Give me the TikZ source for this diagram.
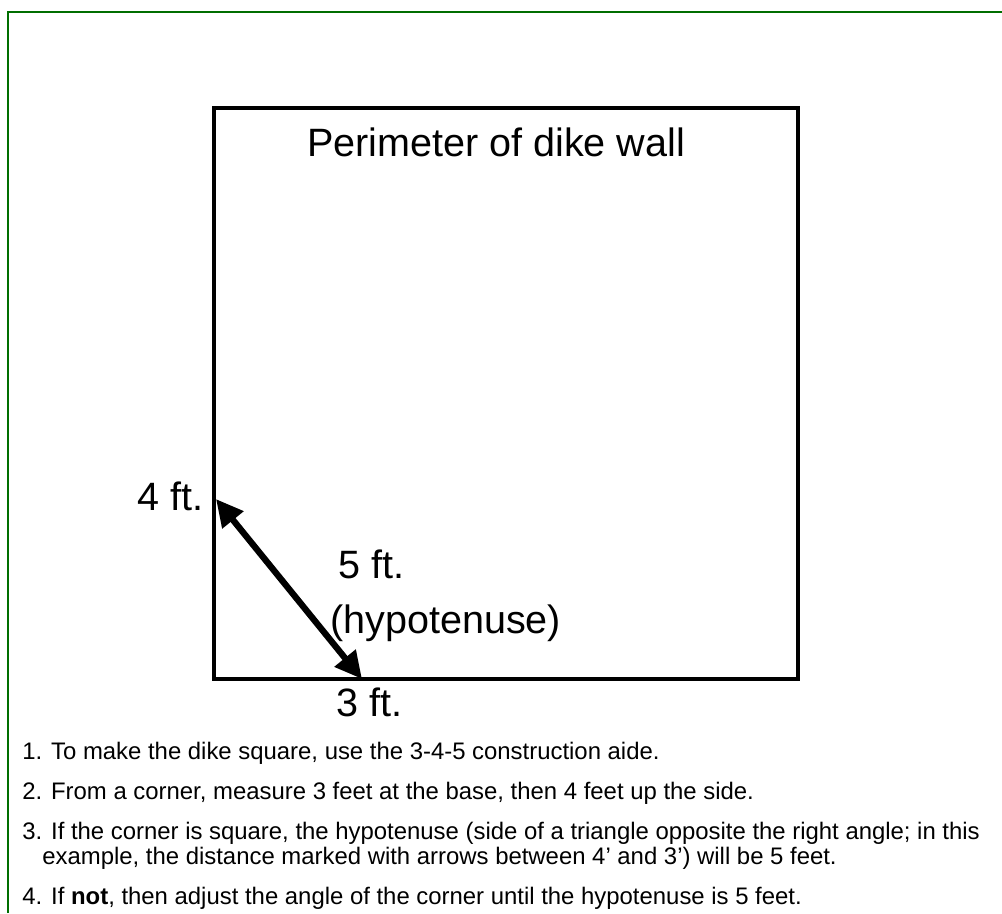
\documentclass[tikz,border=0pt]{standalone}
\usepackage{fontspec}
\setmainfont{Liberation Sans}
\usetikzlibrary{arrows.meta}
\definecolor{framegreen}{RGB}{0,110,0}
\begin{document}
\begin{tikzpicture}[x=0.2mm, y=-0.2mm,
  label/.style={font=\fontsize{22.5}{26}\selectfont, inner sep=0pt},
  note/.style={font=\fontsize{13.6}{16}\selectfont, anchor=base west, inner sep=0pt},
  wall/.style={line width=2.8pt},
  hyp/.style={line width=3.6pt, {Triangle[length=5.4mm, width=5.2mm]}-{Triangle[length=5.4mm, width=5.2mm]}}]
\useasboundingbox (0,0) rectangle (1002,913);
\draw[framegreen, line width=1.1pt](8,913)--(8,12)--(1002,12);

\coordinate (sw) at (214,679);
\coordinate (ne) at (798,108);
\coordinate (four) at (216,499);
\coordinate (three) at (362,679);
\draw[wall](sw) rectangle (ne);
\draw[hyp](four)--(three);

\node[label, anchor=base] (title) at (496,156){Perimeter of dike wall};
\node[label, anchor=base east] (fourft) at (204,510){4 ft.};
\node[label, anchor=base west] (fiveft) at (338,578){5 ft.};
\node[label, anchor=base west] (hypo) at (330,633){(hypotenuse)};
\node[label, anchor=base west] (threeft) at (336,716){3 ft.};

\node[note] (item1) at (22,759){1. To make the dike square, use the 3-4-5 construction aide.};
\node[note] (item2) at (22,799){2. From a corner, measure 3 feet at the base, then 4 feet up the side.};
\node[note] (item3) at (22,839){3. If the corner is square, the hypotenuse (side of a triangle opposite the right angle; in this};
\node[note] (item3b) at (42,864){example, the distance marked with arrows between 4’ and 3’) will be 5 feet.};
\node[note] (item4) at (22,904){4. If \textbf{not}, then adjust the angle of the corner until the hypotenuse is 5 feet.};
\end{tikzpicture}
\end{document}
